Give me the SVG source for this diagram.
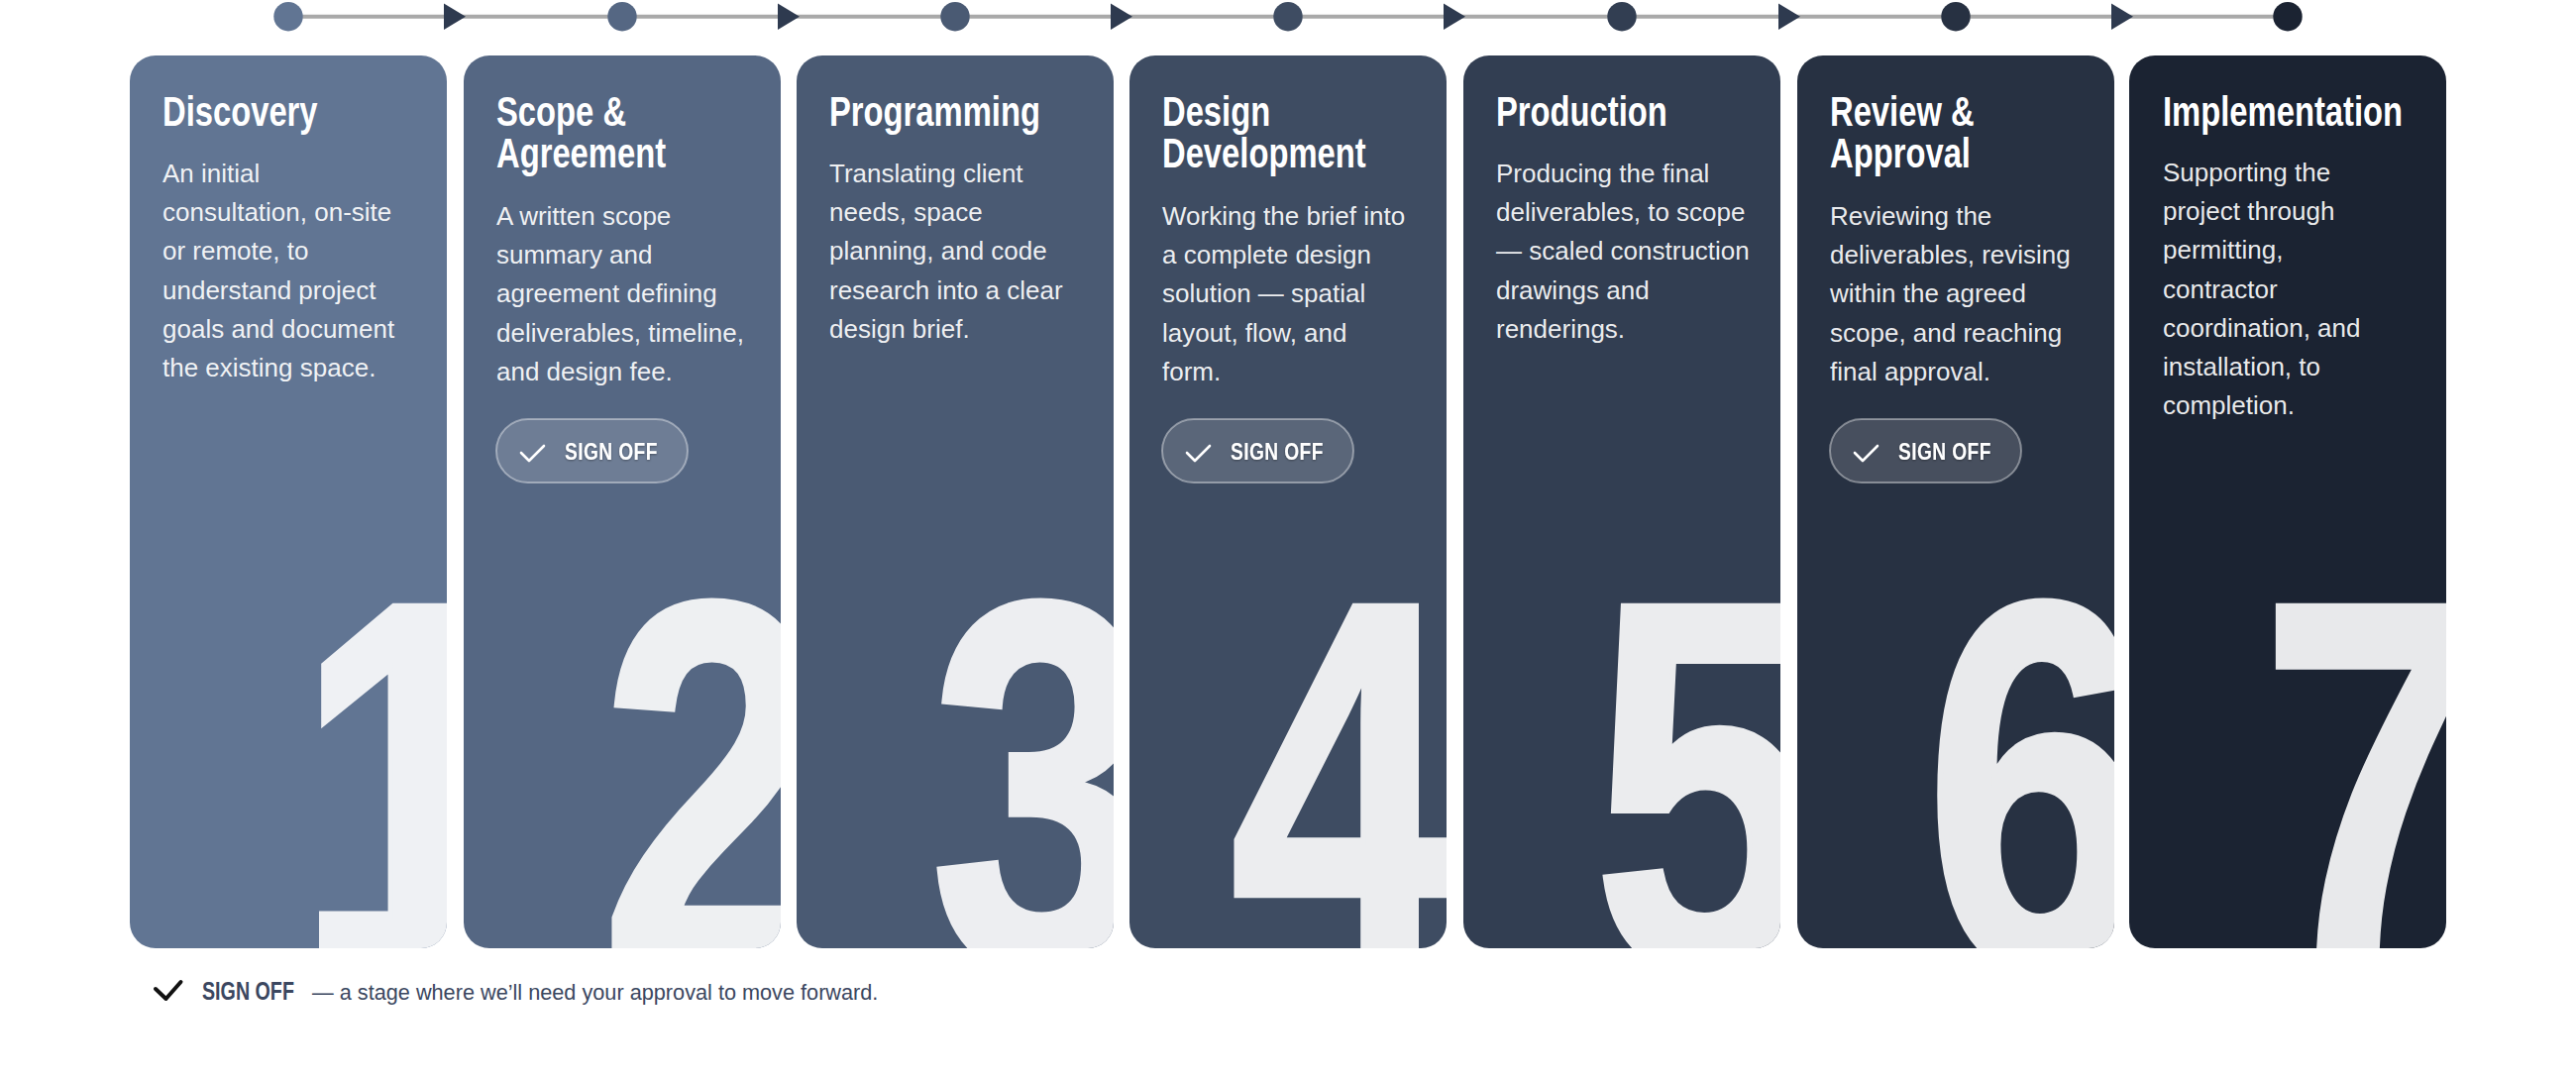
<svg xmlns="http://www.w3.org/2000/svg" width="2600" height="1093" viewBox="0 0 2600 1093">
  <style>
    .title { font-family: 'Liberation Sans', Arial, sans-serif; font-weight: bold; font-size: 42px; fill: #ffffff; }
    .body { font-family: 'Liberation Sans', Arial, sans-serif; font-size: 26px; fill: #ffffff; fill-opacity: 0.92; }
    .num { font-family: 'Liberation Sans', Arial, sans-serif; font-weight: bold; font-size: 530px; stroke-width: 7; stroke-linejoin: miter; }
    .pill { fill: #ffffff; fill-opacity: 0.15; stroke: #ffffff; stroke-opacity: 0.4; stroke-width: 2; }
    .pilltxt { font-family: 'Liberation Sans', Arial, sans-serif; font-weight: bold; font-size: 24px; fill: #ffffff; letter-spacing: 0.5px; }
    .check { fill: none; stroke: #ffffff; stroke-width: 2.6; stroke-linecap: round; stroke-linejoin: round; }
    .tri { fill: #2e3a4f; }
    .legtag { font-family: 'Liberation Sans', Arial, sans-serif; font-weight: bold; font-size: 26px; fill: #3b4760; }
    .legtxt { font-family: 'Liberation Sans', Arial, sans-serif; font-size: 21.7px; fill: #3b4760; }
  </style>
  <defs>
    <clipPath id="cardclip">
      <rect x="0" y="0" width="320" height="901" rx="26" ry="26"/>
    </clipPath>
    <filter id="tshadow" x="-10%" y="-30%" width="120%" height="160%">
      <feDropShadow dx="0" dy="1" stdDeviation="1.2" flood-color="#000000" flood-opacity="0.35"/>
    </filter>
  </defs>

  <rect x="0" y="0" width="2600" height="1093" fill="#ffffff"/>

  <!-- timeline connectors -->
  <g id="connectors">
    <line x1="291" y1="16.7" x2="2309" y2="16.7" stroke="#a9a9a9" stroke-width="4"/>
    <polygon class="tri" points="448,3.5 470,16.7 448,30"/>
    <polygon class="tri" points="785,3.5 807,16.7 785,30"/>
    <polygon class="tri" points="1121,3.5 1143,16.7 1121,30"/>
    <polygon class="tri" points="1457,3.5 1479,16.7 1457,30"/>
    <polygon class="tri" points="1795,3.5 1817,16.7 1795,30"/>
    <polygon class="tri" points="2131,3.5 2153,16.7 2131,30"/>
  </g>

  <!-- timeline nodes -->
  <g id="timeline-nodes">
    <circle cx="291" cy="16.7" r="14.7" fill="#617593"/>
    <circle cx="628" cy="16.7" r="14.7" fill="#556783"/>
    <circle cx="964" cy="16.7" r="14.7" fill="#4a5a73"/>
    <circle cx="1300" cy="16.7" r="14.7" fill="#3e4c62"/>
    <circle cx="1637" cy="16.7" r="14.7" fill="#323e52"/>
    <circle cx="1974" cy="16.7" r="14.7" fill="#273142"/>
    <circle cx="2309" cy="16.7" r="14.7" fill="#1b2332"/>
  </g>

  <!-- Card 1 -->
  <g id="card-1" transform="translate(131,56)">
    <rect x="0" y="0" width="320" height="901" rx="26" ry="26" fill="#617593"/>
    <g clip-path="url(#cardclip)"><g transform="translate(168,921) scale(0.77,1)"><text class="num" x="0" y="0" fill="#eff1f4" stroke="#eff1f4">1</text></g></g>
    <g transform="translate(33,71) scale(0.78,1)"><text class="title" x="0" y="0">Discovery</text></g>
    <text class="body" x="33" y="128">
      <tspan x="33" dy="0">An initial</tspan>
      <tspan x="33" dy="39.2">consultation, on-site</tspan>
      <tspan x="33" dy="39.2">or remote, to</tspan>
      <tspan x="33" dy="39.2">understand project</tspan>
      <tspan x="33" dy="39.2">goals and document</tspan>
      <tspan x="33" dy="39.2">the existing space.</tspan>
    </text>
  </g>

  <!-- Card 2 -->
  <g id="card-2" transform="translate(468,56)">
    <rect x="0" y="0" width="320" height="901" rx="26" ry="26" fill="#556783"/>
    <g clip-path="url(#cardclip)"><g transform="translate(138,921) scale(0.77,1)"><text class="num" x="0" y="0" fill="#eef0f2" stroke="#eef0f2">2</text></g></g>
    <g transform="translate(33,71) scale(0.78,1)"><text class="title" x="0" y="0"><tspan x="0" dy="0">Scope &amp;</tspan><tspan x="0" dy="42">Agreement</tspan></text></g>
    <text class="body" x="33" y="171">
      <tspan x="33" dy="0">A written scope</tspan>
      <tspan x="33" dy="39.2">summary and</tspan>
      <tspan x="33" dy="39.2">agreement defining</tspan>
      <tspan x="33" dy="39.2">deliverables, timeline,</tspan>
      <tspan x="33" dy="39.2">and design fee.</tspan>
    </text>
    <g id="signoff-2">
      <rect class="pill" x="33" y="367" width="193" height="64" rx="32" ry="32"/>
      <polyline class="check" points="58,401 66,409 81,394"/>
      <g transform="translate(102,408) scale(0.8,1)"><text class="pilltxt" x="0" y="0" filter="url(#tshadow)">SIGN OFF</text></g>
    </g>
  </g>

  <!-- Card 3 -->
  <g id="card-3" transform="translate(804,56)">
    <rect x="0" y="0" width="320" height="901" rx="26" ry="26" fill="#4a5a73"/>
    <g clip-path="url(#cardclip)"><g transform="translate(135,921) scale(0.77,1)"><text class="num" x="0" y="0" fill="#edeef1" stroke="#edeef1">3</text></g></g>
    <g transform="translate(33,71) scale(0.78,1)"><text class="title" x="0" y="0">Programming</text></g>
    <text class="body" x="33" y="128">
      <tspan x="33" dy="0">Translating client</tspan>
      <tspan x="33" dy="39.2">needs, space</tspan>
      <tspan x="33" dy="39.2">planning, and code</tspan>
      <tspan x="33" dy="39.2">research into a clear</tspan>
      <tspan x="33" dy="39.2">design brief.</tspan>
    </text>
  </g>

  <!-- Card 4 -->
  <g id="card-4" transform="translate(1140,56)">
    <rect x="0" y="0" width="320" height="901" rx="26" ry="26" fill="#3e4c62"/>
    <g clip-path="url(#cardclip)"><g transform="translate(102,921) scale(0.77,1)"><text class="num" x="0" y="0" fill="#ecedef" stroke="#ecedef">4</text></g></g>
    <g transform="translate(33,71) scale(0.78,1)"><text class="title" x="0" y="0"><tspan x="0" dy="0">Design</tspan><tspan x="0" dy="42">Development</tspan></text></g>
    <text class="body" x="33" y="171">
      <tspan x="33" dy="0">Working the brief into</tspan>
      <tspan x="33" dy="39.2">a complete design</tspan>
      <tspan x="33" dy="39.2">solution — spatial</tspan>
      <tspan x="33" dy="39.2">layout, flow, and</tspan>
      <tspan x="33" dy="39.2">form.</tspan>
    </text>
    <g id="signoff-4">
      <rect class="pill" x="33" y="367" width="193" height="64" rx="32" ry="32"/>
      <polyline class="check" points="58,401 66,409 81,394"/>
      <g transform="translate(102,408) scale(0.8,1)"><text class="pilltxt" x="0" y="0" filter="url(#tshadow)">SIGN OFF</text></g>
    </g>
  </g>

  <!-- Card 5 -->
  <g id="card-5" transform="translate(1477,56)">
    <rect x="0" y="0" width="320" height="901" rx="26" ry="26" fill="#323e52"/>
    <g clip-path="url(#cardclip)"><g transform="translate(131,921) scale(0.77,1)"><text class="num" x="0" y="0" fill="#ebecee" stroke="#ebecee">5</text></g></g>
    <g transform="translate(33,71) scale(0.78,1)"><text class="title" x="0" y="0">Production</text></g>
    <text class="body" x="33" y="128">
      <tspan x="33" dy="0">Producing the final</tspan>
      <tspan x="33" dy="39.2">deliverables, to scope</tspan>
      <tspan x="33" dy="39.2">— scaled construction</tspan>
      <tspan x="33" dy="39.2">drawings and</tspan>
      <tspan x="33" dy="39.2">renderings.</tspan>
    </text>
  </g>

  <!-- Card 6 -->
  <g id="card-6" transform="translate(1814,56)">
    <rect x="0" y="0" width="320" height="901" rx="26" ry="26" fill="#273142"/>
    <g clip-path="url(#cardclip)"><g transform="translate(129,921) scale(0.77,1)"><text class="num" x="0" y="0" fill="#e9eaec" stroke="#e9eaec">6</text></g></g>
    <g transform="translate(33,71) scale(0.78,1)"><text class="title" x="0" y="0"><tspan x="0" dy="0">Review &amp;</tspan><tspan x="0" dy="42">Approval</tspan></text></g>
    <text class="body" x="33" y="171">
      <tspan x="33" dy="0">Reviewing the</tspan>
      <tspan x="33" dy="39.2">deliverables, revising</tspan>
      <tspan x="33" dy="39.2">within the agreed</tspan>
      <tspan x="33" dy="39.2">scope, and reaching</tspan>
      <tspan x="33" dy="39.2">final approval.</tspan>
    </text>
    <g id="signoff-6">
      <rect class="pill" x="33" y="367" width="193" height="64" rx="32" ry="32"/>
      <polyline class="check" points="58,401 66,409 81,394"/>
      <g transform="translate(102,408) scale(0.8,1)"><text class="pilltxt" x="0" y="0" filter="url(#tshadow)">SIGN OFF</text></g>
    </g>
  </g>

  <!-- Card 7 -->
  <g id="card-7" transform="translate(2149,56)">
    <rect x="0" y="0" width="320" height="901" rx="26" ry="26" fill="#1b2332"/>
    <g clip-path="url(#cardclip)"><g transform="translate(133,921) scale(0.77,1)"><text class="num" x="0" y="0" fill="#e8e9eb" stroke="#e8e9eb">7</text></g></g>
    <g transform="translate(34,71) scale(0.78,1)"><text class="title" x="0" y="0">Implementation</text></g>
    <text class="body" x="34" y="127">
      <tspan x="34" dy="0">Supporting the</tspan>
      <tspan x="34" dy="39.2">project through</tspan>
      <tspan x="34" dy="39.2">permitting,</tspan>
      <tspan x="34" dy="39.2">contractor</tspan>
      <tspan x="34" dy="39.2">coordination, and</tspan>
      <tspan x="34" dy="39.2">installation, to</tspan>
      <tspan x="34" dy="39.2">completion.</tspan>
    </text>
  </g>

  <!-- Legend -->
  <g id="legend">
    <polyline points="157,998 167.5,1008 182.5,991" fill="none" stroke="#111111" stroke-width="4" stroke-linecap="round" stroke-linejoin="round"/>
    <g transform="translate(204,1009) scale(0.757,1)"><text class="legtag" x="0" y="0">SIGN OFF</text></g>
    <text class="legtxt" x="315" y="1009">— a stage where we’ll need your approval to move forward.</text>
  </g>
</svg>
